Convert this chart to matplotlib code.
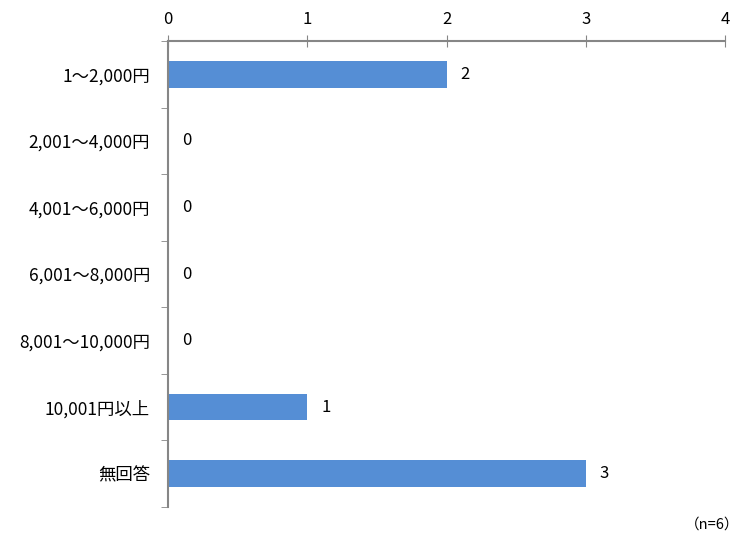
import matplotlib
matplotlib.use("Agg")
import matplotlib.pyplot as plt
import numpy as np

plt.rcParams['font.family'] = ['Noto Sans CJK JP', 'DejaVu Sans']

categories = ["1～2,000円", "2,001～4,000円", "4,001～6,000円", "6,001～8,000円",
              "8,001～10,000円", "10,001円以上", "無回答"]
counts = [2, 0, 0, 0, 0, 1, 3]
x_ticks = [0, 1, 2, 3, 4]

bar_color = "#558ED5"
axis_color = "#868686"

fig = plt.figure(figsize=(7.51, 5.39), dpi=100)
ax = fig.add_axes([168 / 751, 1 - 507 / 539, (725 - 168) / 751, (507 - 41) / 539])

y = np.arange(len(categories))
ax.barh(y, counts, height=0.4, color=bar_color, zorder=2)

for yi, v in zip(y, counts):
    ax.text(v + 0.1, yi, str(v), va="center", ha="left", fontsize=12, color="#000000")

ax.set_xlim(0, 4)
ax.set_ylim(len(categories) - 0.5, -0.5)

ax.xaxis.set_ticks_position("top")
ax.set_xticks(x_ticks)
ax.set_xticklabels([str(t) for t in x_ticks], fontsize=12)
ax.tick_params(axis="x", direction="inout", length=8, color=axis_color, pad=5)

# category labels centred on bars, ticks on band boundaries
ax.set_yticks(y)
ax.set_yticklabels(categories, fontsize=12.5)
ax.tick_params(axis="y", length=0, pad=13)
ax.set_yticks(np.arange(-0.5, len(categories), 1.0), minor=True)
ax.tick_params(axis="y", which="minor", direction="out", length=5, color=axis_color)

for side in ["right", "bottom"]:
    ax.spines[side].set_visible(False)
for side in ["top", "left"]:
    ax.spines[side].set_color(axis_color)
    ax.spines[side].set_linewidth(1.5)

fig.text(712 / 751, 1 - 525 / 539, "（n=6）", ha="center", va="center", fontsize=10.5)

fig.savefig("out.png", dpi=100)
